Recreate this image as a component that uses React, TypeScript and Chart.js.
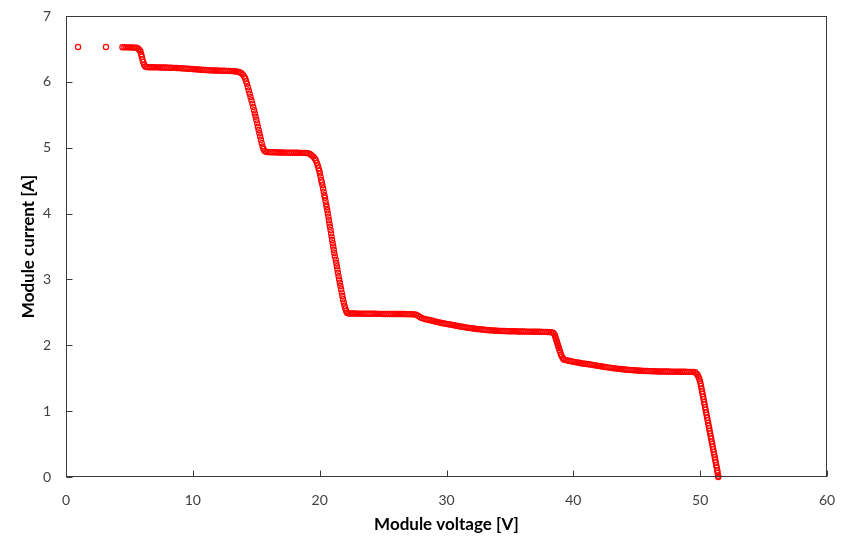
import React, { useEffect, useRef } from "react";
import { Chart, registerables } from "chart.js";

Chart.register(...registerables);

// ---- Data (Module voltage [V], Module current [A]) ----
const startV = [0.95, 3.15, 4.45, 4.6, 4.75, 4.9, 5.05, 5.2, 5.35, 5.5, 5.62, 5.72, 5.8, 5.87, 5.93, 5.98, 6.03, 6.09, 6.16, 6.25, 6.36];
const startI = [6.53, 6.53, 6.525, 6.525, 6.524, 6.524, 6.523, 6.522, 6.52, 6.518, 6.515, 6.5, 6.48, 6.46, 6.42, 6.38, 6.34, 6.3, 6.26, 6.235, 6.225];

const plateau1V = [6.5, 6.65, 6.8, 6.95, 7.1, 7.25, 7.4, 7.55, 7.7, 7.85, 8.0, 8.15, 8.3, 8.45, 8.6, 8.75, 8.9, 9.05, 9.2, 9.35, 9.5, 9.65, 9.8, 9.95, 10.1, 10.25, 10.4, 10.55, 10.7, 10.85, 11.0, 11.15, 11.3, 11.45, 11.6, 11.75, 11.9, 12.05, 12.2, 12.35, 12.5, 12.65, 12.8, 12.95, 13.1, 13.25, 13.4];
const plateau1I = [6.222, 6.222, 6.221, 6.221, 6.22, 6.22, 6.219, 6.219, 6.218, 6.217, 6.216, 6.215, 6.214, 6.213, 6.212, 6.211, 6.209, 6.207, 6.205, 6.203, 6.201, 6.199, 6.197, 6.195, 6.193, 6.19, 6.188, 6.186, 6.184, 6.182, 6.18, 6.178, 6.177, 6.175, 6.174, 6.173, 6.172, 6.171, 6.17, 6.169, 6.168, 6.167, 6.166, 6.165, 6.163, 6.161, 6.159];

const drop1V = [13.55, 13.7, 13.83, 13.95, 14.05, 14.13, 14.2, 14.27, 14.34, 14.41, 14.48, 14.55, 14.62, 14.69, 14.76, 14.83, 14.89, 14.95, 15.01, 15.07, 15.13, 15.19, 15.25, 15.31, 15.37, 15.43, 15.5, 15.57, 15.66, 15.78];
const drop1I = [6.155, 6.145, 6.13, 6.11, 6.08, 6.05, 6.01, 5.97, 5.92, 5.87, 5.82, 5.77, 5.72, 5.67, 5.62, 5.57, 5.52, 5.47, 5.42, 5.37, 5.32, 5.27, 5.22, 5.17, 5.12, 5.07, 5.02, 4.98, 4.95, 4.937];

const plateau2V = [15.9, 16.05, 16.2, 16.35, 16.5, 16.65, 16.8, 16.95, 17.1, 17.25, 17.4, 17.55, 17.7, 17.85, 18.0, 18.15, 18.3, 18.45, 18.6, 18.75, 18.9];
const plateau2I = [4.935, 4.933, 4.932, 4.931, 4.93, 4.929, 4.928, 4.928, 4.927, 4.926, 4.926, 4.925, 4.925, 4.924, 4.924, 4.923, 4.923, 4.922, 4.922, 4.921, 4.92];

const drop2V = [19.05, 19.2, 19.3, 19.4, 19.5, 19.6, 19.7, 19.78, 19.85, 19.91, 19.97, 20.02, 20.07, 20.12, 20.17, 20.22, 20.27, 20.32, 20.37, 20.42, 20.46, 20.51, 20.55, 20.6, 20.64, 20.69, 20.73, 20.77, 20.81, 20.86, 20.9, 20.94, 20.98, 21.03, 21.07, 21.11, 21.15, 21.2, 21.27, 21.31, 21.35, 21.4, 21.44, 21.49, 21.54, 21.59, 21.64, 21.69, 21.74, 21.79, 21.84, 21.9, 21.96, 22.02, 22.09, 22.16, 22.25];
const drop2I = [4.918, 4.91, 4.895, 4.88, 4.865, 4.84, 4.81, 4.77, 4.73, 4.69, 4.65, 4.61, 4.56, 4.51, 4.47, 4.43, 4.38, 4.33, 4.28, 4.24, 4.19, 4.14, 4.1, 4.05, 4.0, 3.95, 3.9, 3.85, 3.8, 3.75, 3.7, 3.65, 3.6, 3.55, 3.5, 3.45, 3.4, 3.35, 3.3, 3.25, 3.2, 3.15, 3.1, 3.05, 3.0, 2.95, 2.9, 2.85, 2.8, 2.75, 2.7, 2.65, 2.6, 2.56, 2.52, 2.495, 2.485];

const plateau3V = [22.35, 22.5, 22.65, 22.8, 22.95, 23.1, 23.25, 23.4, 23.55, 23.7, 23.85, 24.0, 24.15, 24.3, 24.45, 24.6, 24.75, 24.9, 25.05, 25.2, 25.35, 25.5, 25.65, 25.8, 25.95, 26.1, 26.25, 26.4, 26.55, 26.7, 26.85, 27.0, 27.15, 27.3, 27.45];
const plateau3I = [2.483, 2.483, 2.482, 2.482, 2.481, 2.481, 2.48, 2.48, 2.48, 2.479, 2.479, 2.479, 2.478, 2.478, 2.478, 2.477, 2.477, 2.477, 2.476, 2.476, 2.476, 2.476, 2.475, 2.475, 2.475, 2.475, 2.474, 2.474, 2.474, 2.474, 2.473, 2.473, 2.473, 2.472, 2.47];

const slopeV = [27.6, 27.75, 27.9, 28.05, 28.2, 28.35, 28.5, 28.65, 28.8, 28.95, 29.1, 29.25, 29.4, 29.55, 29.7, 29.85, 30.0, 30.15, 30.3, 30.45, 30.6, 30.75, 30.9, 31.05, 31.2, 31.35, 31.5, 31.65, 31.8, 31.95, 32.1, 32.25, 32.4, 32.55, 32.7, 32.85, 33.0, 33.15, 33.3, 33.45, 33.6, 33.75, 33.9, 34.05, 34.2, 34.35, 34.5, 34.65, 34.8, 34.95, 35.1, 35.25, 35.4, 35.55, 35.7, 35.85, 36.0, 36.15, 36.3, 36.45, 36.6, 36.75, 36.9, 37.05, 37.2, 37.35, 37.5, 37.65, 37.8, 37.95, 38.1, 38.25];
const slopeI = [2.465, 2.45, 2.43, 2.415, 2.405, 2.395, 2.39, 2.385, 2.378, 2.37, 2.362, 2.355, 2.348, 2.342, 2.336, 2.33, 2.325, 2.32, 2.315, 2.31, 2.305, 2.298, 2.292, 2.287, 2.282, 2.277, 2.272, 2.268, 2.264, 2.26, 2.256, 2.252, 2.248, 2.245, 2.242, 2.239, 2.236, 2.233, 2.23, 2.228, 2.226, 2.224, 2.222, 2.22, 2.219, 2.218, 2.217, 2.216, 2.215, 2.214, 2.213, 2.212, 2.212, 2.211, 2.21, 2.21, 2.209, 2.209, 2.208, 2.208, 2.207, 2.207, 2.206, 2.206, 2.205, 2.205, 2.204, 2.204, 2.203, 2.202, 2.2, 2.198];

const drop3V = [38.4, 38.5, 38.56, 38.61, 38.66, 38.71, 38.76, 38.81, 38.86, 38.91, 38.96, 39.02, 39.1, 39.18];
const drop3I = [2.19, 2.17, 2.14, 2.11, 2.08, 2.05, 2.02, 1.99, 1.96, 1.93, 1.9, 1.86, 1.83, 1.805];

const plateau4V = [39.25, 39.4, 39.55, 39.7, 39.85, 40.0, 40.15, 40.3, 40.45, 40.6, 40.75, 40.9, 41.05, 41.2, 41.35, 41.5, 41.65, 41.8, 41.95, 42.1, 42.25, 42.4, 42.55, 42.7, 42.85, 43.0, 43.15, 43.3, 43.45, 43.6, 43.75, 43.9, 44.05, 44.2, 44.35, 44.5, 44.65, 44.8, 44.95, 45.1, 45.25, 45.4, 45.55, 45.7, 45.85, 46.0, 46.15, 46.3, 46.45, 46.6, 46.75, 46.9, 47.05, 47.2, 47.35, 47.5, 47.65, 47.8, 47.95, 48.1, 48.25, 48.4, 48.55, 48.7, 48.85, 49.0, 49.15, 49.3, 49.45];
const plateau4I = [1.785, 1.775, 1.768, 1.762, 1.756, 1.75, 1.745, 1.74, 1.735, 1.729, 1.724, 1.72, 1.716, 1.712, 1.708, 1.703, 1.698, 1.693, 1.688, 1.684, 1.679, 1.674, 1.669, 1.665, 1.661, 1.657, 1.653, 1.649, 1.646, 1.642, 1.639, 1.636, 1.633, 1.63, 1.627, 1.625, 1.623, 1.621, 1.619, 1.617, 1.615, 1.613, 1.611, 1.61, 1.609, 1.608, 1.607, 1.606, 1.605, 1.604, 1.603, 1.603, 1.602, 1.602, 1.601, 1.601, 1.6, 1.6, 1.6, 1.6, 1.599, 1.599, 1.599, 1.598, 1.598, 1.597, 1.597, 1.596, 1.595];

const endV = [49.6, 49.72, 49.8, 49.87, 49.93, 49.98, 50.03, 50.07, 50.11, 50.15, 50.19, 50.23, 50.27, 50.31, 50.35, 50.39, 50.43, 50.47, 50.51, 50.55, 50.59, 50.63, 50.67, 50.71, 50.75, 50.79, 50.83, 50.87, 50.91, 50.95, 50.99, 51.03, 51.07, 51.11, 51.15, 51.19, 51.23, 51.27, 51.31, 51.35, 51.38, 51.41, 51.43];
const endI = [1.59, 1.57, 1.55, 1.52, 1.49, 1.46, 1.42, 1.38, 1.34, 1.3, 1.26, 1.22, 1.18, 1.14, 1.1, 1.06, 1.02, 0.98, 0.94, 0.9, 0.86, 0.82, 0.78, 0.74, 0.7, 0.66, 0.62, 0.58, 0.54, 0.5, 0.46, 0.42, 0.38, 0.34, 0.3, 0.26, 0.22, 0.18, 0.14, 0.1, 0.06, 0.02, 0.0];

const xTicks = [0, 10, 20, 30, 40, 50, 60];
const yTicks = [0, 1, 2, 3, 4, 5, 6, 7];
const xTitle = "Module voltage [V]";
const yTitle = "Module current [A]";

const voltage = [
  ...startV, ...plateau1V, ...drop1V, ...plateau2V, ...drop2V,
  ...plateau3V, ...slopeV, ...drop3V, ...plateau4V, ...endV,
];
const current = [
  ...startI, ...plateau1I, ...drop1I, ...plateau2I, ...drop2I,
  ...plateau3I, ...slopeI, ...drop3I, ...plateau4I, ...endI,
];

const FRAME = "#3a3a3a";

const framePlugin = {
  id: "frameAndInnerTicks",
  afterDraw(chart: any) {
    const { ctx, chartArea: a, scales } = chart;
    ctx.save();
    ctx.strokeStyle = FRAME;
    ctx.lineWidth = 1;
    const L = Math.round(a.left) + 0.5;
    const R = Math.round(a.right) - 0.5;
    const T = Math.round(a.top) + 0.5;
    const B = Math.round(a.bottom) - 0.5;
    ctx.strokeRect(L, T, R - L, B - T);
    ctx.beginPath();
    for (const v of xTicks) {
      const x = Math.round(scales.x.getPixelForValue(v)) + 0.5;
      ctx.moveTo(x, B);
      ctx.lineTo(x, B - 6);
    }
    for (const v of yTicks) {
      const y = Math.round(scales.y.getPixelForValue(v)) + 0.5;
      ctx.moveTo(L, y);
      ctx.lineTo(L + 6, y);
    }
    ctx.stroke();
    ctx.restore();
  },
};

export default function App() {
  const ref = useRef<HTMLCanvasElement | null>(null);

  useEffect(() => {
    if (!ref.current) return;
    const points = voltage.map((v, i) => ({ x: v, y: current[i] }));
    const chart = new Chart(ref.current, {
      type: "scatter",
      data: {
        datasets: [
          {
            data: points,
            pointStyle: "circle",
            pointRadius: 2.6,
            pointBorderWidth: 1.2,
            borderColor: "#FF0000",
            backgroundColor: "rgba(255,255,255,0)",
            pointBackgroundColor: "rgba(255,255,255,0)",
            pointBorderColor: "#FF0000",
            showLine: false,
            clip: false as any,
          },
        ],
      },
      options: {
        responsive: false,
        animation: false,
        devicePixelRatio: 1,
        layout: { padding: { top: 16, right: 16, left: 0, bottom: 0 } },
        plugins: {
          legend: { display: false },
          tooltip: { enabled: false },
        },
        scales: {
          x: {
            type: "linear",
            min: 0,
            max: 60,
            afterFit: (s: any) => {
              s.height = 62;
              s.paddingLeft = 0;
              s.paddingRight = 0;
            },
            afterBuildTicks: (s: any) => {
              s.ticks = xTicks.map((v) => ({ value: v }));
            },
            grid: { display: false, drawTicks: false },
            border: { display: false },
            ticks: {
              padding: 15,
              color: "#404040",
              font: { family: "Lato", size: 14 },
              maxRotation: 0,
            },
            title: {
              display: true,
              text: xTitle,
              color: "#000000",
              font: { family: "Lato", size: 17, weight: "bold" },
              padding: { top: 0, bottom: 4 },
            },
          },
          y: {
            type: "linear",
            min: 0,
            max: 7,
            afterFit: (s: any) => {
              s.width = 66;
              s.paddingTop = 0;
              s.paddingBottom = 0;
            },
            afterBuildTicks: (s: any) => {
              s.ticks = yTicks.map((v) => ({ value: v }));
            },
            grid: { display: false, drawTicks: false },
            border: { display: false },
            ticks: {
              padding: 15,
              color: "#404040",
              font: { family: "Lato", size: 14 },
            },
            title: {
              display: true,
              text: yTitle,
              color: "#000000",
              font: { family: "Lato", size: 17, weight: "bold" },
              padding: { top: 18, bottom: 0 },
            },
          },
        },
      },
      plugins: [framePlugin],
    });
    return () => chart.destroy();
  }, []);

  return (
    <div style={{ position: "fixed", left: 0, top: 0, width: 843, height: 539, background: "#ffffff" }}>
      <canvas ref={ref} width={843} height={539} />
    </div>
  );
}
